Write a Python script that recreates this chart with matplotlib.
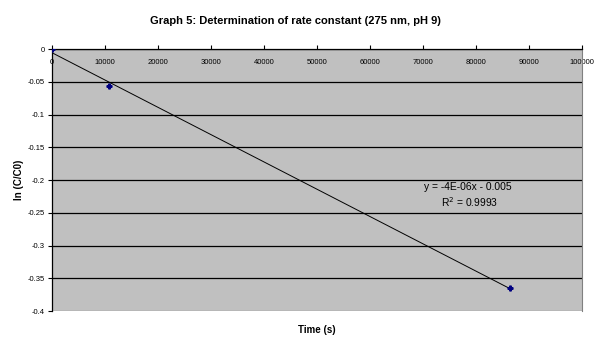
import numpy as np
import matplotlib
matplotlib.use("Agg")
import matplotlib.pyplot as plt

time_s = [0, 10800, 86400]
ln_c = [0.0, -0.057, -0.365]
x_ticks = [0, 10000, 20000, 30000, 40000, 50000, 60000, 70000, 80000, 90000, 100000]
y_ticks = [0, -0.05, -0.1, -0.15, -0.2, -0.25, -0.3, -0.35, -0.4]

plt.rcParams['font.family'] = ['Liberation Sans', 'DejaVu Sans']

fig = plt.figure(figsize=(6.06, 3.48), dpi=100)
ax = fig.add_axes([0.0858, 0.1063, 0.8746, 0.7527])
ax.set_facecolor('#c0c0c0')

slope, intercept = np.polyfit(time_s, ln_c, 1)
xf = np.array([min(time_s), max(time_s)])
ax.plot(xf, slope * xf + intercept, color='black', lw=0.7, zorder=3)
ax.plot(time_s, ln_c, linestyle='none', marker='P', markersize=3.5,
        color='#000080', zorder=4)

ax.set_xlim(0, 100000)
ax.set_ylim(-0.4, 0)
ax.set_xticks(x_ticks)
ax.set_xticklabels([str(v) for v in x_ticks])
ax.set_yticks(y_ticks)
ax.set_yticklabels(['0', '-0.05', '-0.1', '-0.15', '-0.2', '-0.25', '-0.3', '-0.35', '-0.4'])
for v in y_ticks:
    ax.axhline(v, color='#000000' if v > -0.4 else '#808080', lw=0.9, zorder=1)

ax.spines['bottom'].set_position(('data', 0))
ax.spines['bottom'].set_color('black')
ax.spines['bottom'].set_linewidth(0.9)
ax.spines['left'].set_color('black')
ax.spines['left'].set_linewidth(0.9)
ax.spines['right'].set_color('#808080')
ax.spines['top'].set_visible(False)
ax.tick_params(axis='x', labelsize=5.5, length=3, direction='in', pad=7)
ax.tick_params(axis='y', labelsize=5.5, length=3, direction='out', pad=2)

fig.text(0.488, 1 - 21 / 348, 'Graph 5: Determination of rate constant (275 nm, pH 9)',
         fontsize=8, fontweight='bold', ha='center', va='center')
ax.set_xlabel('Time (s)', fontsize=7, fontweight='bold')
ax.set_ylabel('ln (C/C0)', fontsize=7, fontweight='bold')
ax.xaxis.set_label_coords(0.5, -0.053)
ax.yaxis.set_label_coords(-0.053, 0.5)

ax.text(0.785, 0.473, 'y = -4E-06x - 0.005', transform=ax.transAxes,
        fontsize=7.4, ha='center', va='center')
ax.text(0.787, 0.416, 'R$^2$ = 0.9993', transform=ax.transAxes,
        fontsize=7.4, ha='center', va='center')

fig.savefig('out.png', dpi=100, facecolor='white')
